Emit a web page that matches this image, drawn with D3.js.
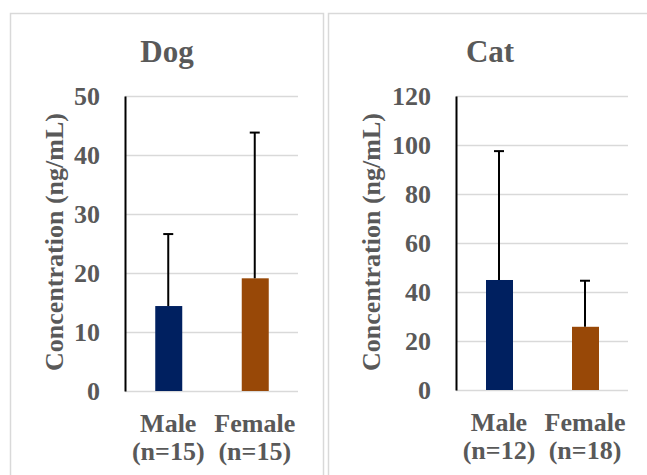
<!DOCTYPE html>
<html>
<head>
<meta charset="utf-8">
<script src="https://cdn.jsdelivr.net/npm/d3@7"></script>
<style>
  body { margin: 0; background: #fff; }
  svg { display: block; }
  text { font-family: "Liberation Serif", "Times New Roman", serif; font-weight: bold; fill: #595959; }
</style>
</head>
<body>
<svg id="chart" width="647" height="475"></svg>
<script>
// data
const categories = ["Male", "Female"];
const sampleSizes = { Dog: ["(n=15)", "(n=15)"], Cat: ["(n=12)", "(n=18)"] };
const dogMeans = [14.4, 19.1];
const dogErr = [26.6, 43.8];   // top of error bar
const catMeans = [44.9, 25.8];
const catErr = [97.5, 44.6];
const dogTicks = [0, 10, 20, 30, 40, 50];
const catTicks = [0, 20, 40, 60, 80, 100, 120];
const barColors = ["#002060", "#984807"];

const svg = d3.select("#chart");

function panel(cfg) {
  const g = svg.append("g");

  // panel frame
  g.append("rect")
    .attr("x", cfg.frame[0] + 0.5).attr("y", 13.5)
    .attr("width", cfg.frame[1] - cfg.frame[0]).attr("height", 480)
    .attr("fill", "none").attr("stroke", "#d9d9d9").attr("stroke-width", 1.5);

  let x = d3.scaleBand().domain(categories).range([cfg.left, cfg.right]);
  let y = d3.scaleLinear().domain([0, d3.max(cfg.ticks)]).range([cfg.bottom, 96]);

  // grid
  g.append("g")
    .attr("transform", `translate(${cfg.left},0)`)
    .call(d3.axisLeft(y).tickValues(cfg.ticks).tickSize(-(cfg.right - cfg.left)).tickFormat(""))
    .call(a => a.select(".domain").remove())
    .call(a => a.selectAll("line").attr("stroke", "#d9d9d9").attr("stroke-width", 1.5));

  // bars
  g.selectAll("rect.bar")
    .data(cfg.means)
    .enter()
    .append("rect")
    .attr("class", "bar")
    .attr("x", (d, i) => x(categories[i]) + x.bandwidth() / 2 - 13)
    .attr("width", 27)
    .attr("y", d => y(d))
    .attr("height", d => y(0) - y(d))
    .attr("fill", (d, i) => barColors[i]);

  // error bars (upper only)
  let eb = g.selectAll("g.err")
    .data(cfg.err)
    .enter()
    .append("g")
    .attr("class", "err")
    .attr("stroke", "#000").attr("stroke-width", 2);
  eb.append("line")
    .attr("x1", (d, i) => x(categories[i]) + x.bandwidth() / 2)
    .attr("x2", (d, i) => x(categories[i]) + x.bandwidth() / 2)
    .attr("y1", (d, i) => y(cfg.means[i]))
    .attr("y2", d => y(d));
  eb.append("line")
    .attr("x1", (d, i) => x(categories[i]) + x.bandwidth() / 2 - 5)
    .attr("x2", (d, i) => x(categories[i]) + x.bandwidth() / 2 + 5)
    .attr("y1", d => y(d))
    .attr("y2", d => y(d));

  // y axis
  g.append("g")
    .attr("transform", `translate(${cfg.left},0)`)
    .call(d3.axisLeft(y).tickValues(cfg.ticks).tickSize(0).tickPadding(25))
    .call(a => a.select(".domain").attr("stroke", "#000").attr("stroke-width", 2))
    .call(a => a.selectAll("text").style("font-size", "26px").attr("fill", "#595959")
      .style("font-family", "'Liberation Serif', 'Times New Roman', serif").style("font-weight", "bold"));

  // x labels
  categories.forEach((c, i) => {
    let cx = x(c) + x.bandwidth() / 2;
    g.append("text").attr("x", cx).attr("y", cfg.bottom + 41)
      .attr("text-anchor", "middle").style("font-size", "26px").text(c);
    g.append("text").attr("x", cx).attr("y", cfg.bottom + 69)
      .attr("text-anchor", "middle").style("font-size", "26px").text(cfg.n[i]);
  });

  // title
  g.append("text").attr("x", cfg.titleX).attr("y", 62)
    .attr("text-anchor", "middle").style("font-size", "31px").text(cfg.title);

  // y axis title
  g.append("text")
    .attr("transform", `translate(${cfg.ytitleX},242) rotate(-90)`)
    .attr("text-anchor", "middle").style("font-size", "26px")
    .text("Concentration (ng/mL)");
}

panel({ title: "Dog", frame: [10, 323], left: 125, right: 298, bottom: 391,
        ticks: dogTicks, means: dogMeans, err: dogErr, n: sampleSizes.Dog, titleX: 167, ytitleX: 63 });
panel({ title: "Cat", frame: [328, 660], left: 456, right: 628, bottom: 390,
        ticks: catTicks, means: catMeans, err: catErr, n: sampleSizes.Cat, titleX: 490, ytitleX: 380 });
</script>
</body>
</html>
